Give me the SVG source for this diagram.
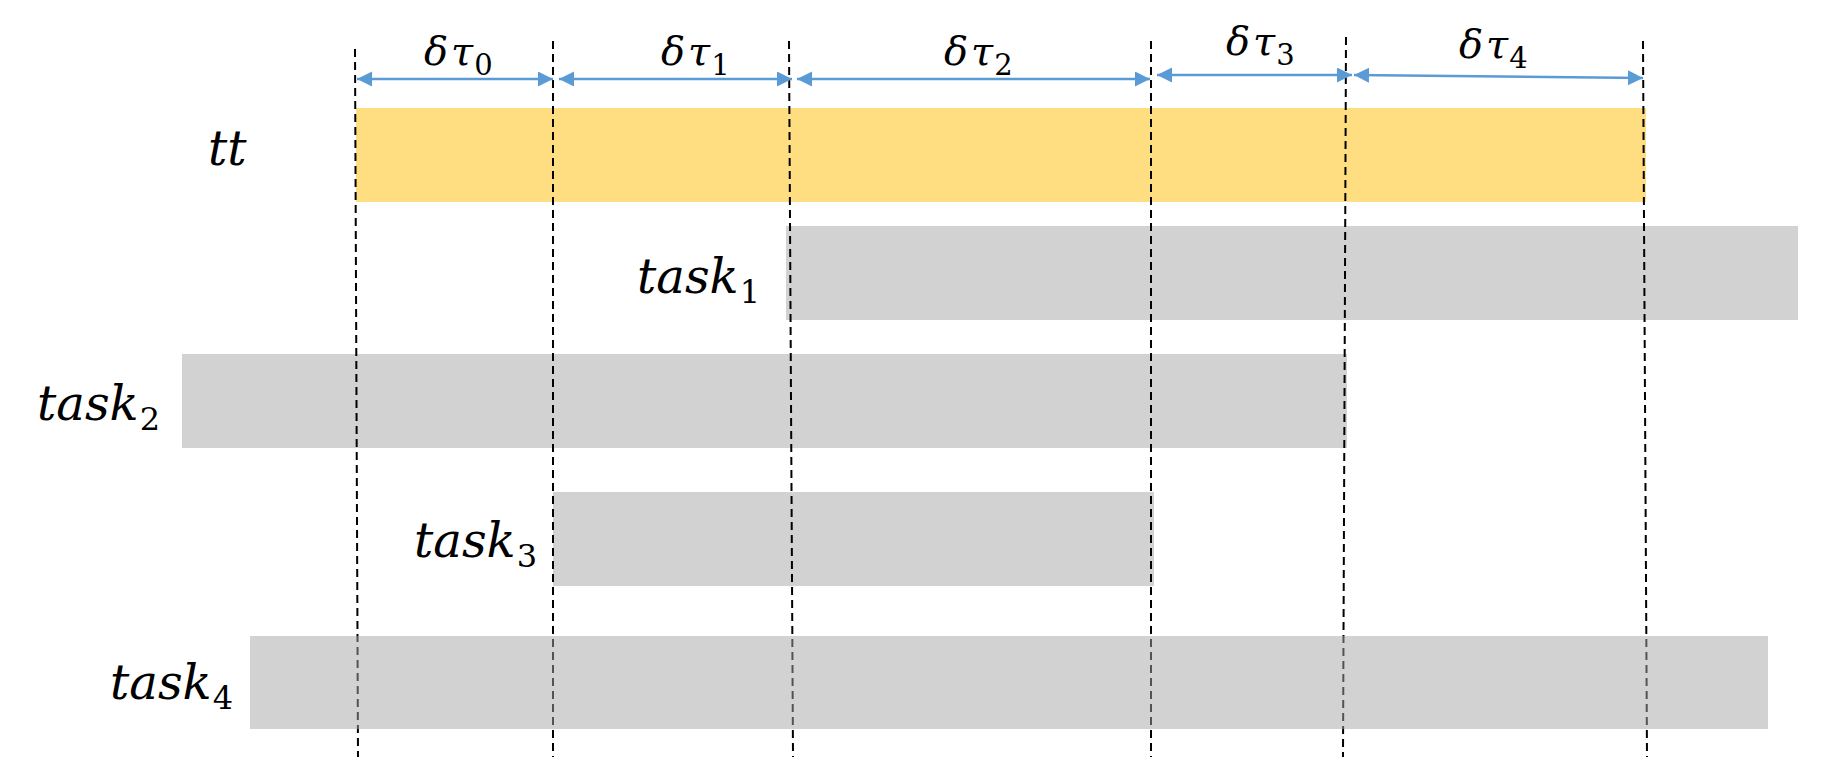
<svg xmlns="http://www.w3.org/2000/svg" width="1846" height="778" viewBox="0 0 1846 778">
<style>
.lbl{font-family:"DejaVu Serif",serif;font-style:italic;fill:#000}
.task{font-size:48px}
.sub{font-size:32px;font-style:normal}
.dt{font-size:40px}
.dsub{font-size:29px;font-style:normal}
.bar{fill:#D2D2D2}
.guide{stroke:#000;stroke-width:2;stroke-dasharray:8 5;fill:none}
.arr{stroke:#5B9BD5;stroke-width:2.5;fill:none;marker-start:url(#ah);marker-end:url(#ah)}
</style>
<defs>
<marker id="ah" markerUnits="userSpaceOnUse" markerWidth="16" markerHeight="16" refX="15" refY="7.5" orient="auto-start-reverse">
<path d="M0,0 L15,7.5 L0,15 z" fill="#5B9BD5"/>
</marker>
</defs>
<rect width="1846" height="778" fill="#fff"/>
<g id="tt">
<rect x="356" y="108" width="1290" height="94" fill="#FFDE82"/>
<text class="lbl task" x="208" y="165">tt</text>
</g>
<g id="task1">
<rect class="bar" x="786" y="226" width="1012" height="94"/>
<text class="lbl task" x="637" y="293">task<tspan class="sub" dx="1" dy="10">1</tspan></text>
</g>
<g id="task2">
<rect class="bar" x="182" y="354" width="1165" height="94"/>
<text class="lbl task" x="37" y="420">task<tspan class="sub" dx="1" dy="10">2</tspan></text>
</g>
<g id="task3">
<rect class="bar" x="553" y="492" width="601" height="94"/>
<text class="lbl task" x="414" y="557">task<tspan class="sub" dx="1" dy="10">3</tspan></text>
</g>
<g id="guides">
<line class="guide" x1="355" y1="49" x2="358" y2="757"/>
<line class="guide" x1="553" y1="41" x2="553" y2="757"/>
<line class="guide" x1="789" y1="41" x2="793" y2="757"/>
<line class="guide" x1="1151" y1="41" x2="1151" y2="757"/>
<line class="guide" x1="1346" y1="37" x2="1343" y2="757"/>
<line class="guide" x1="1643" y1="41" x2="1647" y2="757"/>
</g>
<g id="task4">
<rect x="250" y="636" width="1518" height="93" fill="#A6A6A6" fill-opacity="0.5"/>
<text class="lbl task" x="110" y="699">task<tspan class="sub" dx="1" dy="10">4</tspan></text>
</g>
<g id="connectors">
<line class="arr" x1="357" y1="79" x2="553" y2="79"/>
<line class="arr" x1="559" y1="79" x2="792" y2="79"/>
<line class="arr" x1="797" y1="79" x2="1150" y2="79"/>
<line class="arr" x1="1157" y1="75" x2="1352" y2="75"/>
<line class="arr" x1="1354" y1="75" x2="1643" y2="78"/>
</g>
<g id="interval-labels">
<text class="lbl dt" x="424" y="65">δ<tspan dx="3">τ</tspan><tspan class="dsub" dx="1" dy="10">0</tspan></text>
<text class="lbl dt" x="661" y="65">δ<tspan dx="3">τ</tspan><tspan class="dsub" dx="1" dy="10">1</tspan></text>
<text class="lbl dt" x="944" y="65">δ<tspan dx="3">τ</tspan><tspan class="dsub" dx="1" dy="10">2</tspan></text>
<text class="lbl dt" x="1226" y="55">δ<tspan dx="3">τ</tspan><tspan class="dsub" dx="1" dy="10">3</tspan></text>
<text class="lbl dt" x="1459" y="58">δ<tspan dx="3">τ</tspan><tspan class="dsub" dx="1" dy="10">4</tspan></text>
</g>
</svg>
